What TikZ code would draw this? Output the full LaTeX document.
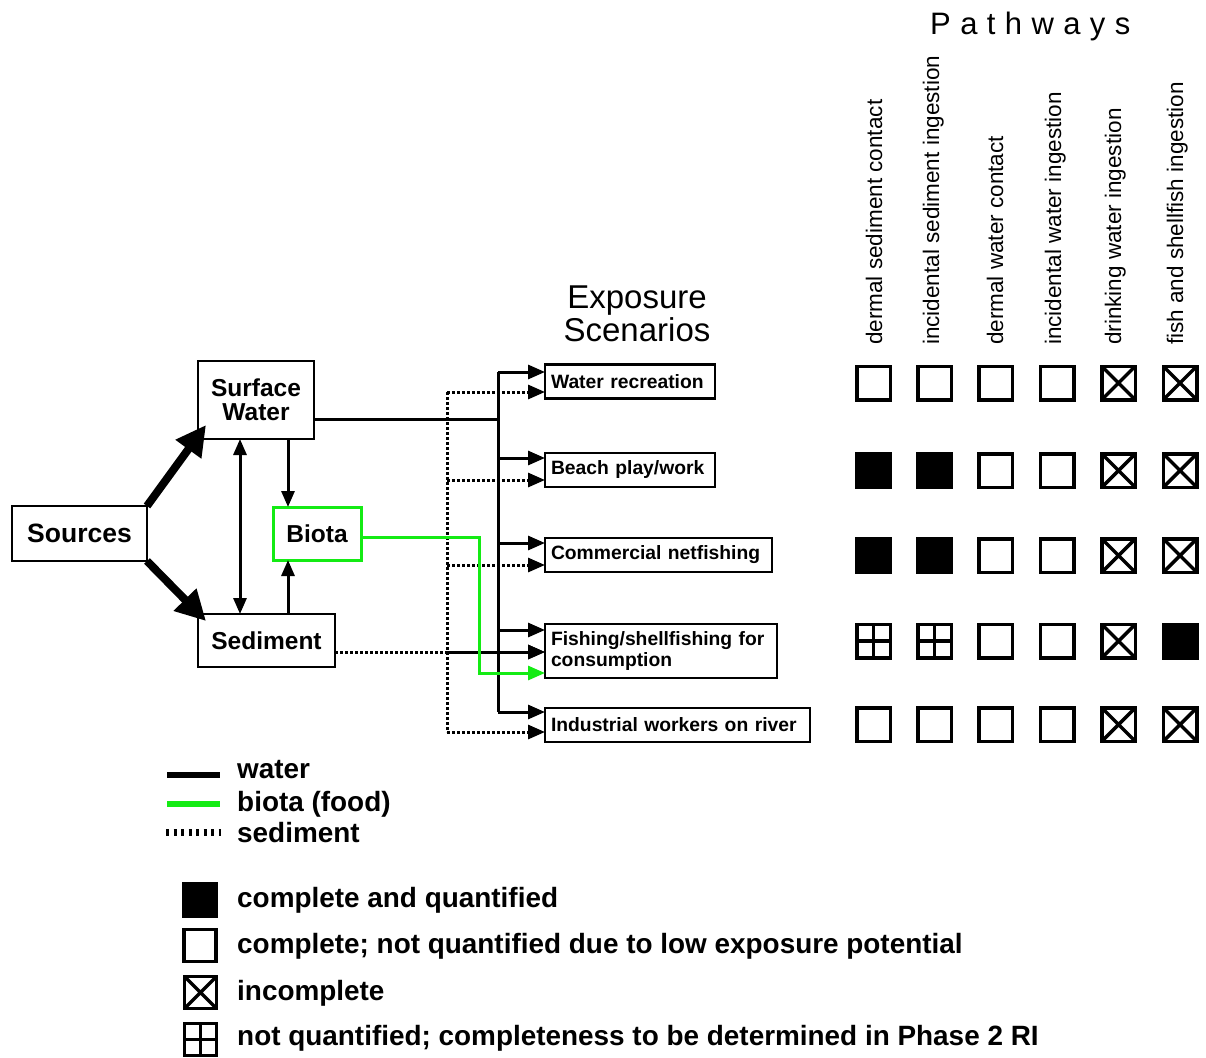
\documentclass[tikz,border=0pt]{standalone}
\usepackage{fontspec}
\setmainfont{Liberation Sans}
\usetikzlibrary{arrows.meta}
\definecolor{bgreen}{RGB}{20,235,20}
\begin{document}
\begin{tikzpicture}[x=1pt,y=-1pt,
  box/.style={draw, line width=2.5pt, inner sep=0pt, outer sep=0pt, align=center,
    font=\bfseries\fontsize{24.5}{25}\selectfont},
  scen/.style={draw, line width=2.2pt, anchor=west, inner xsep=6pt, inner ysep=0pt,
    outer sep=0pt, align=left, font=\bfseries\fontsize{19.3}{21}\selectfont},
  wline/.style={line width=3pt},
  sline/.style={line width=3pt, dash pattern=on 2.5pt off 2.5pt},
  gline/.style={line width=3pt, draw=bgreen},
  arr/.style={-{Triangle[length=17pt,width=14pt]}},
  darr/.style={{Triangle[length=16pt,width=13pt]}-{Triangle[length=16pt,width=13pt]}},
  sarr/.style={-{Triangle[length=16pt,width=13pt]}},
  bigarr/.style={line width=8pt, -{Triangle[length=30pt,width=30pt]}},
  plabel/.style={rotate=90, anchor=base west, inner sep=0pt, font=\fontsize{22.5}{24}\selectfont},
  legtext/.style={anchor=base west, inner sep=0pt, font=\bfseries\fontsize{27.9}{29}\selectfont},
  sq/.style={draw, line width=3.5pt, minimum size=33.5pt, inner sep=0pt, outer sep=0pt},
  sqE/.style={sq},
  sqF/.style={sq, fill=black},
  sqX/.style={sq, path picture={\draw[line width=3.5pt]
     (path picture bounding box.north west) -- (path picture bounding box.south east)
     (path picture bounding box.north east) -- (path picture bounding box.south west);}},
  sqP/.style={sq, path picture={\draw[line width=3.5pt]
     (path picture bounding box.north) -- (path picture bounding box.south)
     (path picture bounding box.west) -- (path picture bounding box.east);}},
]
\fill[white] (0,0) rectangle (1206,1057);
\useasboundingbox (0,0) rectangle (1206,1057);

% ---- left boxes
\node[box, minimum width=135pt, minimum height=55pt,
      font=\bfseries\fontsize{26.5}{28}\selectfont] (Src) at (79.5,533.5) {Sources};
\node[box, minimum width=116pt, minimum height=78pt] (SW) at (256,400) {Surface\\[-1pt]Water};
\node[box, draw=bgreen, line width=3pt, minimum width=88pt, minimum height=53pt] (Biota) at (317,533.5) {Biota};
\node[box, minimum width=137pt, minimum height=53pt] (Sed) at (266.5,640.5) {Sediment};

% ---- exposure scenarios
\node[align=center, inner sep=0pt, font=\fontsize{33}{33}\selectfont] (ES) at (637,314) {Exposure\\Scenarios};
\node[scen, text width=158pt, minimum height=34pt] (WR) at (545,381.5) {Water recreation};
\node[scen, text width=158pt, minimum height=34pt] (BP) at (545,470) {Beach play/work};
\node[scen, text width=215pt, minimum height=34pt] (CN) at (545,555) {Commercial netfishing};
\node[scen, text width=220pt, minimum height=54pt] (FS) at (545,651) {Fishing/shellfishing for\\consumption};
\node[scen, text width=253pt, minimum height=34pt] (IW) at (545,725) {Industrial workers on river};

% ---- pathways header
\node[anchor=base west, inner sep=0pt, font=\fontsize{31}{33}\selectfont] (PW) at (930,35)
  {P\kern9.4pt a\kern9.4pt t\kern9.4pt h\kern9.4pt w\kern9.4pt a\kern9.4pt y\kern9.4pt s};
\node[plabel] (p1) at (882,345) {dermal sediment contact};
\node[plabel] (p2) at (939,345) {incidental sediment ingestion};
\node[plabel] (p3) at (1003,345) {dermal water contact};
\node[plabel] (p4) at (1061,345) {incidental water ingestion};
\node[plabel] (p5) at (1121,345) {drinking water ingestion};
\node[plabel] (p6) at (1183,345) {fish and shellfish ingestion};

% ---- matrix of symbols
\node[sqE] (m11) at (873.5,383) {};
\node[sqE] (m12) at (934.5,383) {};
\node[sqE] (m13) at (995.5,383) {};
\node[sqE] (m14) at (1057,383) {};
\node[sqX] (m15) at (1118.5,383) {};
\node[sqX] (m16) at (1180,383) {};
\node[sqF] (m21) at (873.5,470.5) {};
\node[sqF] (m22) at (934.5,470.5) {};
\node[sqE] (m23) at (995.5,470.5) {};
\node[sqE] (m24) at (1057,470.5) {};
\node[sqX] (m25) at (1118.5,470.5) {};
\node[sqX] (m26) at (1180,470.5) {};
\node[sqF] (m31) at (873.5,555.5) {};
\node[sqF] (m32) at (934.5,555.5) {};
\node[sqE] (m33) at (995.5,555.5) {};
\node[sqE] (m34) at (1057,555.5) {};
\node[sqX] (m35) at (1118.5,555.5) {};
\node[sqX] (m36) at (1180,555.5) {};
\node[sqP] (m41) at (873.5,641) {};
\node[sqP] (m42) at (934.5,641) {};
\node[sqE] (m43) at (995.5,641) {};
\node[sqE] (m44) at (1057,641) {};
\node[sqX] (m45) at (1118.5,641) {};
\node[sqF] (m46) at (1180,641) {};
\node[sqE] (m51) at (873.5,724.5) {};
\node[sqE] (m52) at (934.5,724.5) {};
\node[sqE] (m53) at (995.5,724.5) {};
\node[sqE] (m54) at (1057,724.5) {};
\node[sqX] (m55) at (1118.5,724.5) {};
\node[sqX] (m56) at (1180,724.5) {};

% ---- connector coordinates
\coordinate (bx) at (498,0);
\coordinate (dx) at (447,0);
\coordinate (gx) at (479,0);
\coordinate (dbx) at (240,0);
\coordinate (ax) at (288,0);
\coordinate (jw) at (498,419);
\coordinate (wr1) at ([yshift=9.5pt]WR.west);
\coordinate (wr2) at ([yshift=-10.5pt]WR.west);
\coordinate (bp1) at ([yshift=12pt]BP.west);
\coordinate (bp2) at ([yshift=-10pt]BP.west);
\coordinate (cn1) at ([yshift=12pt]CN.west);
\coordinate (cn2) at ([yshift=-10pt]CN.west);
\coordinate (fs1) at ([yshift=21pt]FS.west);
\coordinate (fs2) at ([yshift=-1pt]FS.west);
\coordinate (fs3) at ([yshift=-22pt]FS.west);
\coordinate (iw1) at ([yshift=13pt]IW.west);
\coordinate (iw2) at ([yshift=-7pt]IW.west);
\coordinate (bioE) at ([yshift=-3.5pt]Biota.east);

% ---- left arrows
\draw[bigarr] (Src.north east) -- ([xshift=8pt,yshift=14pt]SW.south west);
\draw[bigarr] (Src.south east) -- ([xshift=8pt,yshift=-7pt]Sed.north west);
\draw[wline,darr] (SW.south -| dbx) -- (Sed.north -| dbx);
\draw[wline,sarr] (SW.south -| ax) -- (Biota.north -| ax);
\draw[wline,sarr] (Sed.north -| ax) -- (Biota.south -| ax);

% ---- sediment (dotted)
\draw[sline] (wr2 -| dx) -- (iw2 -| dx);
\foreach \n in {wr2,bp2,cn2,fs2,iw2} \draw[sline,arr] (\n -| dx) -- (\n);
\draw[sline,arr] (fs2 -| Sed.east) -- (fs2);

% ---- water (solid)
\draw[wline] (SW.east |- jw) -- (jw);
\draw[wline] (wr1 -| bx) -- (iw1 -| bx);
\foreach \n in {wr1,bp1,cn1,fs1,iw1} \draw[wline,arr] (\n -| bx) -- (\n);

% ---- biota (green)
\draw[gline,arr] (bioE) -| (fs3 -| gx) -- (fs3);

% ---- legend: lines
\coordinate (lw1) at (167,774.5); \coordinate (lw2) at (220,774.5);
\coordinate (lg1) at (167,803.5); \coordinate (lg2) at (220,803.5);
\coordinate (ls1) at (166,832);   \coordinate (ls2) at (221,832);
\draw[line width=6pt] (lw1) -- (lw2);
\draw[line width=6pt, bgreen] (lg1) -- (lg2);
\draw[line width=7pt, dash pattern=on 3pt off 4.5pt] (ls1) -- (ls2);
\node[legtext] (t1) at (237,778) {water};
\node[legtext] (t2) at (237,811) {biota (food)};
\node[legtext] (t3) at (237,842) {sediment};

% ---- legend: symbols
\node[sqF, minimum size=33pt] (k1) at (200,900) {};
\node[sqE, minimum size=32pt] (k2) at (200,945.5) {};
\node[sqX, minimum size=32pt] (k3) at (200.5,992.5) {};
\node[sqP, minimum size=32pt] (k4) at (200.5,1039.5) {};
\node[legtext] (u1) at (237,907) {complete and quantified};
\node[legtext] (u2) at (237,953) {complete; not quantified due to low exposure potential};
\node[legtext] (u3) at (237,1000) {incomplete};
\node[legtext] (u4) at (237,1045) {not quantified; completeness to be determined in Phase 2 RI};
\end{tikzpicture}
\end{document}
